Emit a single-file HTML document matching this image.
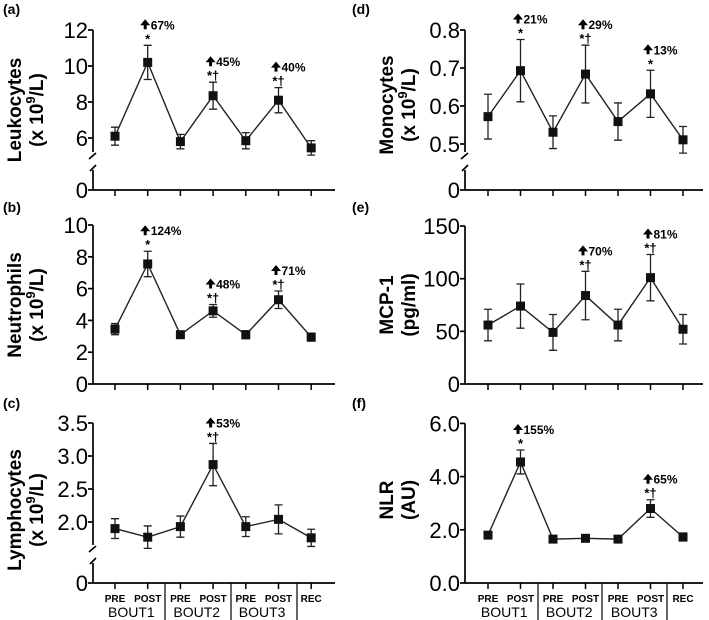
<!DOCTYPE html>
<html><head><meta charset="utf-8"><style>
body{margin:0;background:#fff;}
svg{display:block;font-family:"Liberation Sans",Arial,sans-serif;}
</style></head><body>
<svg id="fig" width="709" height="620" viewBox="0 0 709 620"></svg>
<script>
const categories=["PRE","POST","PRE","POST","PRE","POST","REC"];
const bouts=["BOUT1","BOUT2","BOUT3","REC"];
const leukMean=[6.1,10.2,5.8,8.35,5.85,8.1,5.45];
const leukErr=[0.5,0.95,0.4,0.75,0.45,0.7,0.4];
const leukAnn=[null,"67%",null,"45%",null,"40%",null];
const leukStar=[null,"*",null,"*†",null,"*†",null];
const leukTicks=[0,6,8,10,12];
const neutMean=[3.45,7.55,3.1,4.6,3.1,5.3,2.95];
const neutErr=[0.35,0.8,0.2,0.4,0.25,0.55,0.25];
const neutAnn=[null,"124%",null,"48%",null,"71%",null];
const neutStar=[null,"*",null,"*†",null,"*†",null];
const neutTicks=[0,2,4,6,8,10];
const lympMean=[1.9,1.77,1.93,2.87,1.93,2.04,1.76];
const lympErr=[0.15,0.17,0.16,0.32,0.15,0.22,0.13];
const lympAnn=[null,null,null,"53%",null,null,null];
const lympStar=[null,null,null,"*†",null,null,null];
const lympTicks=["0","2.0","2.5","3.0","3.5"];
const monoMean=[0.572,0.693,0.531,0.684,0.559,0.632,0.511];
const monoErr=[0.059,0.082,0.043,0.076,0.049,0.062,0.035];
const monoAnn=[null,"21%",null,"29%",null,"13%",null];
const monoStar=[null,"*",null,"*†",null,"*",null];
const monoTicks=["0","0.5","0.6","0.7","0.8"];
const mcpMean=[56,74,49,84,56,101,52];
const mcpErr=[15,21,17,23,15,22,14];
const mcpAnn=[null,null,null,"70%",null,"81%",null];
const mcpStar=[null,null,null,"*†",null,"*†",null];
const mcpTicks=[0,50,100,150];
const nlrMean=[1.8,4.55,1.65,1.68,1.65,2.8,1.73];
const nlrErr=[0.08,0.45,0.05,0.05,0.06,0.33,0.15];
const nlrAnn=[null,"155%",null,null,null,"65%",null];
const nlrStar=[null,"*",null,null,null,"*†",null];
const nlrTicks=["0.0","2.0","4.0","6.0"];

const NS="http://www.w3.org/2000/svg";
const svg=document.getElementById('fig');
function mk(tag,attrs,parent,txt){const e=document.createElementNS(NS,tag);for(const k in attrs)e.setAttribute(k,attrs[k]);if(txt!=null)e.textContent=txt;(parent||svg).appendChild(e);return e;}

const panels=[
 {id:"a",key:"leukocytes",mean:leukMean,err:leukErr,ann:leukAnn,star:leukStar,ticks:leukTicks,ax:93,x0:115,dx:32.7,base:190,brk:{lo:6,y6:138,per:18},top:12,labels:["Leukocytes","(x 10","9","/L)"],ly:110,lett:14,xend:335},
 {id:"b",key:"neutrophils",mean:neutMean,err:neutErr,ann:neutAnn,star:neutStar,ticks:neutTicks,ax:93,x0:115,dx:32.7,base:384,lin:{per:15.9},top:10,labels:["Neutrophils","(x 10","9","/L)"],ly:305,lett:212,xend:335},
 {id:"c",key:"lymphocytes",mean:lympMean,err:lympErr,ann:lympAnn,star:lympStar,ticks:lympTicks,ax:93,x0:115,dx:32.7,base:583,brk:{lo:2.0,y6:522,per:66},top:3.5,labels:["Lymphocytes","(x 10","9","/L)"],ly:510,lett:408,xend:335,bottom:true,seps:[165,231,297]},
 {id:"d",key:"monocytes",mean:monoMean,err:monoErr,ann:monoAnn,star:monoStar,ticks:monoTicks,ax:465,x0:488,dx:32.5,base:190,brk:{lo:0.5,y6:144,per:380},top:0.8,labels:["Monocytes","(x 10","9","/L)"],ly:105,lett:14,xend:703},
 {id:"e",key:"mcp1",mean:mcpMean,err:mcpErr,ann:mcpAnn,star:mcpStar,ticks:mcpTicks,ax:465,x0:488,dx:32.5,base:384,lin:{per:1.053},top:150,labels:["MCP-1","(pg/ml)"],ly:305,lett:212,xend:703},
 {id:"f",key:"nlr",mean:nlrMean,err:nlrErr,ann:nlrAnn,star:nlrStar,ticks:nlrTicks,ax:465,x0:488,dx:32.5,base:583,lin:{per:26.6},top:6,labels:["NLR","(AU)"],ly:500,lett:408,xend:703,bottom:true,seps:[538,602,667]}
];

panels.forEach(p=>{
 const g=mk('g',{},svg);
 
 
 const yS=v=>{v=+v; if(p.brk){ if(v===0) return p.base; return p.brk.y6-(v-p.brk.lo)*p.brk.per;} return p.base-v*p.lin.per;};
 const xS=i=>p.x0+i*p.dx;
 const lt=mk('text',{x:p.id==="a"||p.id==="b"||p.id==="c"?3:352,y:p.lett,'font-size':14,'font-weight':'bold'},g,'('+p.id+')');
 
 
 const topY=yS(p.top);
 if(p.brk){
   const bTop=p.base-38, bBot=p.base-20;
   mk('line',{x1:p.ax,y1:topY,x2:p.ax,y2:bTop,stroke:'#000','stroke-width':1.7},g);
   mk('line',{x1:p.ax,y1:bBot,x2:p.ax,y2:p.base,stroke:'#000','stroke-width':1.7},g);
   mk('path',{d:`M${p.ax-4} ${bTop+7} L${p.ax+3} ${bTop+1}`,stroke:'#000','stroke-width':1.7,fill:'none'},g);
   mk('path',{d:`M${p.ax-3} ${bBot+1} L${p.ax+3} ${bBot-5}`,stroke:'#000','stroke-width':1.7,fill:'none'},g);
 } else mk('line',{x1:p.ax,y1:topY,x2:p.ax,y2:p.base,stroke:'#000','stroke-width':1.7},g);
 mk('line',{x1:p.ax,y1:p.base,x2:p.xend,y2:p.base,stroke:'#000','stroke-width':1.7},g);
 p.ticks.forEach(t=>{
   const y=yS(t);
   mk('line',{x1:p.ax-5,y1:y,x2:p.ax,y2:y,stroke:'#000','stroke-width':1.7},g);
   const tx=mk('text',{x:p.ax-5,y:y+8,'font-size':22,'text-anchor':'end'},g,String(t));
   
   
 });
 const yt=mk('text',{transform:`translate(${p.ax-72},${p.ly}) rotate(-90)`,'font-size':19,'font-weight':'bold','text-anchor':'middle'},g);
 
 
 mk('tspan',{x:0,y:0},yt,p.labels[0]);
 mk('tspan',{x:0,y:22},yt,p.labels[1]);
 if(p.labels.length>2){mk('tspan',{dy:-8,'font-size':13},yt,p.labels[2]);mk('tspan',{dy:8},yt,p.labels[3]);}
 categories.forEach((c,i)=>{
   mk('line',{x1:xS(i),y1:p.base,x2:xS(i),y2:p.base+6,stroke:'#000','stroke-width':1.5},g);
   if(p.bottom){
     const cl=mk('text',{x:xS(i),y:p.base+19,'font-size':10,'font-weight':'bold','text-anchor':'middle'},g,c);
     
     
   }
 });
 if(p.bottom){
   p.seps.forEach(s=>mk('line',{x1:s,y1:p.base,x2:s,y2:620,stroke:'#000','stroke-width':1.2},g));
   [0,1,2].forEach(k=>{
     const bl=mk('text',{x:(xS(2*k)+xS(2*k+1))/2,y:p.base+34,'font-size':14,'text-anchor':'middle'},g,bouts[k]);
     
     
   });
 }
 const pts=p.mean.map((v,i)=>xS(i)+','+yS(v)).join(' ');
 const pl=mk('polyline',{points:pts,fill:'none',stroke:'#222','stroke-width':1.4},g);
 
 
 p.mean.forEach((v,i)=>{
   const x=xS(i),yt1=yS(v+p.err[i]),yb=yS(v-p.err[i]);
   const eb=mk('path',{d:`M${x} ${yt1} V${yb} M${x-4} ${yt1} H${x+4} M${x-4} ${yb} H${x+4}`,stroke:'#222','stroke-width':1.3,fill:'none'},g);
   
   
   const pt=mk('rect',{x:x-4.5,y:yS(v)-4.5,width:9,height:9,fill:'#111'},g);
   
   
   if(p.star[i]){
     const st=mk('text',{x:x,y:yt1-2,'font-size':13,'font-weight':'bold','text-anchor':'middle'},g,p.star[i]);
     
     
   }
   if(p.ann[i]){
     const ay=yt1-16;
     mk('path',{d:`M${x-4} ${ay} L${x-4} ${ay-4} L${x-7.5} ${ay-4} L${x-2.5} ${ay-10} L${x+2.5} ${ay-4} L${x-1} ${ay-4} L${x-1} ${ay} Z`,fill:'#000'},g);
     const at=mk('text',{x:x+3,y:ay,'font-size':12,'font-weight':'bold'},g,p.ann[i]);
     
     
   }
 });
});
</script>
</body></html>
